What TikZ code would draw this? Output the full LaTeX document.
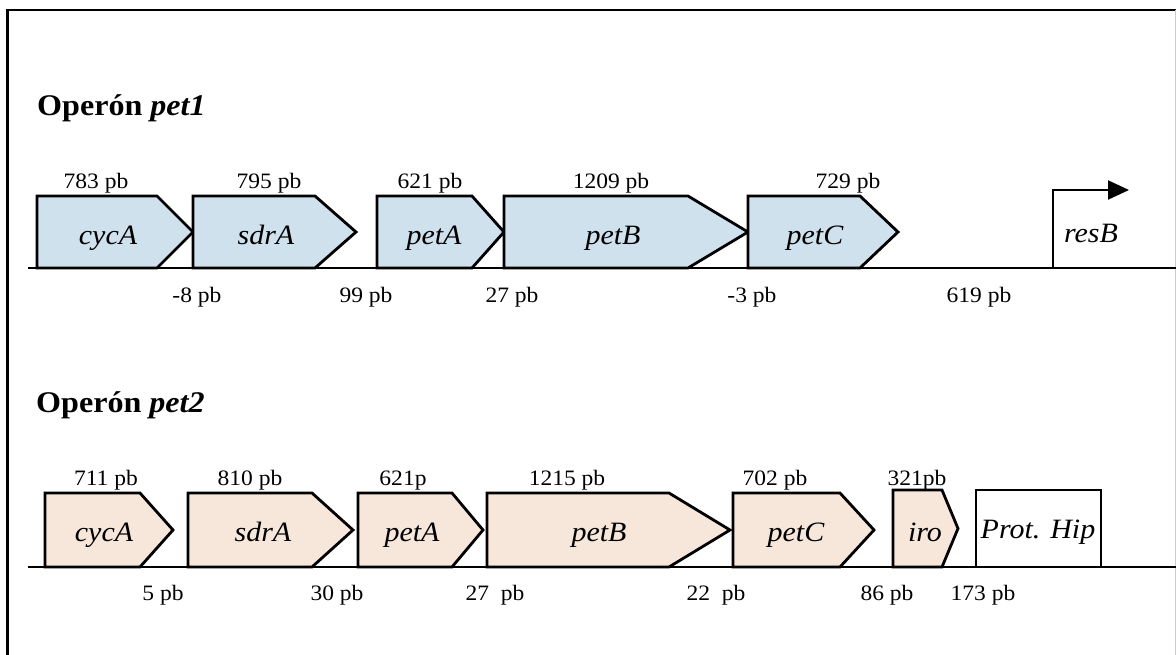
\documentclass[tikz,border=0pt]{standalone}
\usepackage{fontspec}
\setmainfont[FakeStretch=1.07]{Liberation Serif}
\usetikzlibrary{arrows.meta}
\definecolor{blueFill}{RGB}{208,225,238}
\definecolor{peachFill}{RGB}{247,231,219}
\newcommand{\genepath}[6]{% fill, left, shoulder, tip, top, base
  \draw[genebox, fill=#1] (#2,#5) -- (#3,#5) -- (#4,{(#5+#6)/2}) -- (#3,#6) -- (#2,#6) -- cycle;}
\begin{document}
\begin{tikzpicture}[x=1pt,y=-1pt,
  genebox/.style={draw, line width=2.8pt, line join=miter},
  axisline/.style={line width=2.2pt},
  frameline/.style={line width=2.2pt},
  sizelbl/.style={anchor=base, inner sep=0pt, font=\fontsize{22}{26}\selectfont},
  genelbl/.style={anchor=base, inner sep=0pt, font=\fontsize{28}{32}\selectfont\itshape},
  titlelbl/.style={anchor=base west, inner sep=0pt, font=\fontsize{30}{34}\selectfont\bfseries}]
\useasboundingbox (0,0) rectangle (1176,655);
% frame
\draw[frameline] (7.5,655) -- (7.5,10) -- (1176,10);
\draw[line width=1pt, gray!40] (1175,10) -- (1175,655);

% ---------------- Operon pet1 ----------------
\node[titlelbl] (t1) at (37,116) {Operón \textit{pet1}};
\genepath{blueFill}{37}{157}{193}{196}{268}
\genepath{blueFill}{193}{315}{356}{196}{268}
\genepath{blueFill}{377}{472}{504}{196}{268}
\genepath{blueFill}{504}{688}{748}{196}{268}
\genepath{blueFill}{748}{860}{898}{196}{268}
\coordinate (a1s) at (28,268);
\coordinate (a1e) at (1176,268);
\draw[axisline] (a1s) -- (a1e);
% promoter resB
\coordinate (pr0) at (1053,268);
\coordinate (pr1) at (1053,190);
\coordinate (pr2) at (1129,190);
\draw[line width=2pt, -{Triangle[length=21pt,width=19pt]}] (pr0) -- (pr1) -- (pr2);

\node[genelbl] (g1a) at (108,245) {cycA};
\node[genelbl] (g1b) at (266,245) {sdrA};
\node[genelbl] (g1c) at (434,245) {petA};
\node[genelbl] (g1d) at (613,245) {petB};
\node[genelbl] (g1e) at (815,245) {petC};
\node[genelbl] (g1f) at (1091,243) {resB};

\node[sizelbl] (s1a) at (96,189) {783 pb};
\node[sizelbl] (s1b) at (269,189) {795 pb};
\node[sizelbl] (s1c) at (430,189) {621 pb};
\node[sizelbl] (s1d) at (611,189) {1209 pb};
\node[sizelbl] (s1e) at (848,189) {729 pb};

\node[sizelbl] (d1a) at (197,302) {-8 pb};
\node[sizelbl] (d1b) at (366,302) {99 pb};
\node[sizelbl] (d1c) at (512,302) {27 pb};
\node[sizelbl] (d1d) at (752,302) {-3 pb};
\node[sizelbl] (d1e) at (979,302) {619 pb};

% ---------------- Operon pet2 ----------------
\node[titlelbl] (t2) at (36,412) {Operón \textit{pet2}};
\genepath{peachFill}{45}{140}{173}{493}{567}
\genepath{peachFill}{188}{312}{353}{493}{567}
\genepath{peachFill}{358}{452}{483}{493}{567}
\genepath{peachFill}{487}{669}{730}{493}{567}
\genepath{peachFill}{733}{840}{874}{493}{567}
\genepath{peachFill}{893}{942}{958}{490}{567}
\draw[genebox, line width=2.2pt] (976,490) rectangle (1101,567);
\coordinate (a2s) at (28,567);
\coordinate (a2e) at (1176,567);
\draw[axisline] (a2s) -- (a2e);

\node[genelbl] (g2a) at (104,541) {cycA};
\node[genelbl] (g2b) at (263,541) {sdrA};
\node[genelbl] (g2c) at (412,541) {petA};
\node[genelbl] (g2d) at (599,541) {petB};
\node[genelbl] (g2e) at (796,541) {petC};
\node[genelbl] (g2f) at (925,541) {iro};
\node[genelbl] (g2g) at (1038,538) {Prot. Hip};

\node[sizelbl] (s2a) at (106,485) {711 pb};
\node[sizelbl] (s2b) at (250,485) {810 pb};
\node[sizelbl] (s2c) at (403,485) {621p};
\node[sizelbl] (s2d) at (567,485) {1215 pb};
\node[sizelbl] (s2e) at (775,485) {702 pb};
\node[sizelbl] (s2f) at (917,485) {321pb};

\node[sizelbl] (d2a) at (163,600) {5 pb};
\node[sizelbl] (d2b) at (337,600) {30 pb};
\node[sizelbl] (d2c) at (495,600) {27\ \ pb};
\node[sizelbl] (d2d) at (716,600) {22\ \ pb};
\node[sizelbl] (d2e) at (887,600) {86 pb};
\node[sizelbl] (d2f) at (983,600) {173 pb};
\end{tikzpicture}
\end{document}
